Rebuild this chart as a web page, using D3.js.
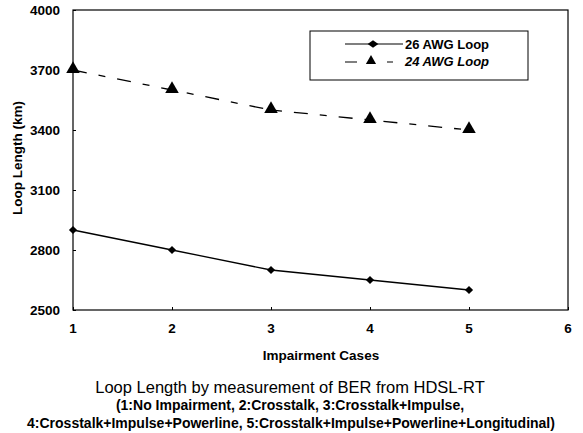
<!DOCTYPE html>
<html>
<head>
    <script src="https://d3js.org/d3.v7.min.js"></script>
    <style>
        body { margin: 0; background: #fff; }
        text { font-family: "Liberation Sans", Arial, sans-serif; fill: #000; }
    </style>
</head>
<body>
    <svg id="chart"></svg>
    <script>
        // Data
        const cases = [1, 2, 3, 4, 5];
        const awg26 = [2900, 2800, 2700, 2650, 2600];
        const awg24 = [3700, 3600, 3500, 3450, 3400];
        const yTicks = [2500, 2800, 3100, 3400, 3700, 4000];
        const xTicks = [1, 2, 3, 4, 5, 6];
        const seriesNames = ["26 AWG Loop", "24 AWG Loop"];

        const width = 583, height = 433;
        const svg = d3.select("#chart").attr("width", width).attr("height", height);

        const x = d3.scaleLinear().domain([1, 6]).range([73, 568]);
        const y = d3.scaleLinear().domain([2500, 4000]).range([310, 10]);

        // Plot frame
        svg.append("rect")
            .attr("x", x(1)).attr("y", y(4000))
            .attr("width", x(6) - x(1)).attr("height", y(2500) - y(4000))
            .attr("fill", "none").attr("stroke", "#000").attr("stroke-width", 1.2);

        // Axes (ticks point inward, labels drawn separately)
        const yAxis = svg.append("g")
            .attr("transform", `translate(${x(1)},0)`)
            .call(d3.axisRight(y).tickValues(yTicks).tickSize(3).tickFormat(""));
        yAxis.select(".domain").remove();
        svg.append("g").selectAll("text").data(yTicks).join("text")
            .attr("x", 60).attr("y", d => y(d) + 5)
            .attr("text-anchor", "end")
            .style("font-size", "13.5px").style("font-weight", "bold")
            .text(d => d);

        const xAxis = svg.append("g")
            .attr("transform", `translate(0,${y(2500)})`)
            .call(d3.axisTop(x).tickValues(xTicks).tickSize(3).tickFormat(""));
        xAxis.select(".domain").remove();
        svg.append("g").selectAll("text").data(xTicks).join("text")
            .attr("x", d => x(d)).attr("y", 333)
            .attr("text-anchor", "middle")
            .style("font-size", "13.5px").style("font-weight", "bold")
            .text(d => d);

        // Axis titles
        svg.append("text")
            .attr("transform", "translate(22,158) rotate(-90)")
            .attr("text-anchor", "middle")
            .style("font-size", "13.5px").style("font-weight", "bold")
            .text("Loop Length (km)");
        svg.append("text")
            .attr("x", 321).attr("y", 360)
            .attr("text-anchor", "middle")
            .style("font-size", "13.5px").style("font-weight", "bold")
            .text("Impairment Cases");

        // Lines
        const line = d3.line().x((d, i) => x(cases[i])).y(d => y(d));
        svg.append("path").datum(awg26).attr("d", line)
            .attr("fill", "none").attr("stroke", "#000").attr("stroke-width", 1.3);
        svg.append("path").datum(awg24).attr("d", line)
            .attr("fill", "none").attr("stroke", "#000").attr("stroke-width", 1.3)
            .attr("stroke-dasharray", "14,12,7,12");

        const diamond = d3.symbol().type(d3.symbolSquare).size(34);
        const triangle = d3.symbol().type(d3.symbolTriangle).size(80);

        svg.append("g").selectAll("path").data(awg26).join("path")
            .attr("transform", (d, i) => `translate(${x(cases[i])},${y(d)}) rotate(45)`)
            .attr("d", diamond).attr("fill", "#000");
        svg.append("g").selectAll("path").data(awg24).join("path")
            .attr("transform", (d, i) => `translate(${x(cases[i])},${y(d) - 1})`)
            .attr("d", triangle).attr("fill", "#000");

        // Legend
        const lg = svg.append("g");
        lg.append("rect").attr("x", 310).attr("y", 31).attr("width", 218).attr("height", 49)
            .attr("fill", "#fff").attr("stroke", "#000").attr("stroke-width", 1);
        lg.append("line").attr("x1", 345).attr("x2", 403).attr("y1", 44).attr("y2", 44)
            .attr("stroke", "#000").attr("stroke-width", 1.2);
        lg.append("path").attr("transform", "translate(373,44) scale(1.3,0.9) rotate(45)")
            .attr("d", diamond).attr("fill", "#000");
        lg.append("line").attr("x1", 345).attr("x2", 393).attr("y1", 62).attr("y2", 62)
            .attr("stroke", "#000").attr("stroke-width", 1.2).attr("stroke-dasharray", "12,30");
        lg.append("path").attr("transform", "translate(371,61)")
            .attr("d", d3.symbol().type(d3.symbolTriangle).size(45)).attr("fill", "#000");
        lg.selectAll("text.lab").data(seriesNames).join("text")
            .attr("x", 405).attr("y", (d, i) => 48.5 + i * 17)
            .style("font-size", "13px").style("font-weight", "bold")
            .style("font-style", (d, i) => i === 1 ? "italic" : "normal")
            .text(d => d);

        // Caption
        svg.append("text").attr("x", 290).attr("y", 393).attr("text-anchor", "middle")
            .style("font-size", "16.5px")
            .text("Loop Length by measurement of BER from HDSL-RT");
        svg.append("text").attr("x", 290).attr("y", 410).attr("text-anchor", "middle")
            .style("font-size", "14px").style("font-weight", "bold")
            .text("(1:No Impairment, 2:Crosstalk, 3:Crosstalk+Impulse,");
        svg.append("text").attr("x", 291).attr("y", 428).attr("text-anchor", "middle")
            .style("font-size", "14px").style("font-weight", "bold")
            .text("4:Crosstalk+Impulse+Powerline, 5:Crosstalk+Impulse+Powerline+Longitudinal)");
    </script>
</body>
</html>
